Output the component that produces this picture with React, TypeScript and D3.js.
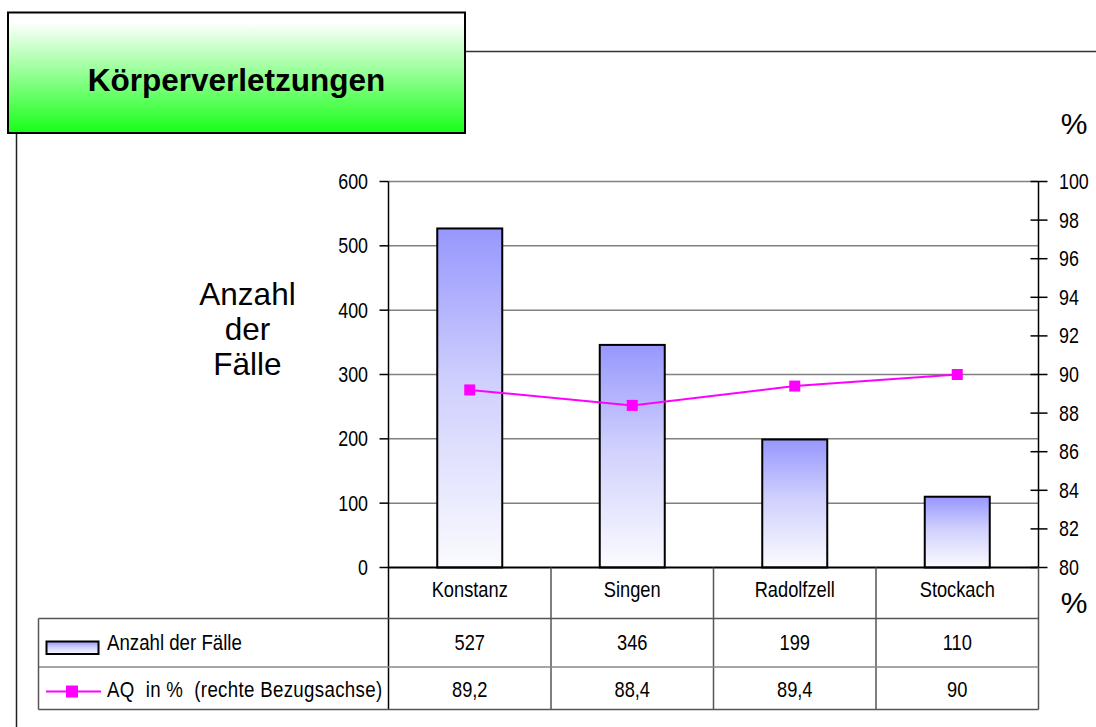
import React from 'react';
import * as d3 from 'd3';

const TITLE = 'Körperverletzungen';
const CITIES = ['Konstanz', 'Singen', 'Radolfzell', 'Stockach'];
const CASES = [527, 346, 199, 110];
const AQ = [89.2, 88.4, 89.4, 90];
const CASE_LABELS = ['527', '346', '199', '110'];
const AQ_LABELS = ['89,2', '88,4', '89,4', '90'];
const LEFT_TICKS = [0, 100, 200, 300, 400, 500, 600];
const RIGHT_TICKS = [80, 82, 84, 86, 88, 90, 92, 94, 96, 98, 100];
const SERIES_NAMES = ['Anzahl der Fälle', 'AQ  in %  (rechte Bezugsachse)'];
const Y_TITLE = ['Anzahl', 'der', 'Fälle'];

const W = 1096;
const H = 727;
const PLOT = { left: 388.5, right: 1038.5, top: 181.5, bottom: 567.5 };
const TABLE = { left: 38.5, row1: 618.5, row2: 667, bottom: 709.5 };
const SANS = '"Liberation Sans", Arial, sans-serif';
const GRID = '#808080';
const TABLE_LINE = '#555';
const MAGENTA = '#ff00ff';
// no narrow font installed, so squeeze Arial-metric text sideways
const SQUEEZE = 0.83;

/**
 * Condensed text drawn with a horizontal squeeze
 */
function Narrow({ x, y, anchor = 'start', size = 21, spacing = 0, dy, children }: any) {
  return <text transform={`translate(${x},${y}) scale(${SQUEEZE},1)`} textAnchor={anchor} dy={dy}
    fontFamily={SANS} fontSize={size} letterSpacing={spacing} xmlSpace='preserve'
    style={{ whiteSpace: 'pre' }}>{children}</text>;
}

export default function App() {
  const x = d3.scaleBand<string>()
    .domain(CITIES)
    .range([PLOT.left, PLOT.right])
    .paddingInner(0.6)
    .paddingOuter(0.3);
  const step = x.step();
  const yLeft = d3.scaleLinear().domain([0, 600]).range([PLOT.bottom, PLOT.top]);
  const yRight = d3.scaleLinear().domain([80, 100]).range([PLOT.bottom, PLOT.top]);
  const center = (c: string) => (x(c) as number) + x.bandwidth() / 2;

  const line = d3.line<number>()
    .x((_, i) => center(CITIES[i]))
    .y(d => yRight(d));

  const colEdges = CITIES.map((_, i) => PLOT.left + i * step).concat([PLOT.right]);

  return (
    <svg width={W} height={H} style={{ position: 'absolute', left: 0, top: 0, background: '#fff' }}>
      <defs>
        <linearGradient id='titleFill' x1='0' y1='0' x2='0' y2='1'>
          <stop offset='0.08' stopColor='#ffffff' />
          <stop offset='1' stopColor='#18ff18' />
        </linearGradient>
        <linearGradient id='barFill' x1='0' y1='0' x2='0' y2='1'>
          <stop offset='0' stopColor='#9797fd' />
          <stop offset='0.45' stopColor='#cfcffd' />
          <stop offset='1' stopColor='#fbfbff' />
        </linearGradient>
      </defs>

      {/* frame */}
      <line x1={465} x2={W} y1={51.5} y2={51.5} stroke='#333' strokeWidth={1.5} />
      <line x1={16.5} x2={16.5} y1={133} y2={H} stroke='#222' strokeWidth={1.5} />
      <rect x={8} y={12.5} width={457} height={120.5} fill='url(#titleFill)' stroke='#000' strokeWidth={2} />
      <text x={236.5} y={91} textAnchor='middle' fontFamily={SANS} fontWeight='bold' fontSize={31.5}>{TITLE}</text>

      {/* axis titles */}
      {Y_TITLE.map((t, i) =>
        <text key={t} x={247.5} y={305 + i * 35} textAnchor='middle' fontFamily={SANS} fontSize={31.5}>{t}</text>
      )}
      <text x={1074} y={134} textAnchor='middle' fontFamily={SANS} fontSize={30}>%</text>
      <text x={1074} y={613} textAnchor='middle' fontFamily={SANS} fontSize={30}>%</text>

      {/* grid */}
      {LEFT_TICKS.filter(t => t > 0).map(t =>
        <line key={t} x1={PLOT.left} x2={PLOT.right} y1={yLeft(t)} y2={yLeft(t)} stroke={GRID} strokeWidth={1.5} />
      )}

      {/* left axis */}
      {LEFT_TICKS.map(t =>
        <g key={t}>
          <line x1={PLOT.left - 9} x2={PLOT.left} y1={yLeft(t)} y2={yLeft(t)} stroke='#000' strokeWidth={1.5} />
          <Narrow x={368} y={yLeft(t)} dy='0.35em' anchor='end' size={21.5}>{t}</Narrow>
        </g>
      )}

      {/* right axis */}
      {RIGHT_TICKS.map(t =>
        <g key={t}>
          <line x1={PLOT.right - 8} x2={PLOT.right + 9} y1={yRight(t)} y2={yRight(t)} stroke='#000' strokeWidth={1.5} />
          <Narrow x={1059} y={yRight(t)} dy='0.35em' size={21.5}>{t}</Narrow>
        </g>
      )}

      {/* bars */}
      {CITIES.map((c, i) =>
        <rect key={c} x={x(c)} y={yLeft(CASES[i])} width={x.bandwidth()} height={PLOT.bottom - yLeft(CASES[i])}
          fill='url(#barFill)' stroke='#000' strokeWidth={2} />
      )}

      {/* axis lines */}
      <line x1={PLOT.left} x2={PLOT.left} y1={PLOT.top} y2={TABLE.bottom} stroke='#000' strokeWidth={1.5} />
      <line x1={PLOT.right} x2={PLOT.right} y1={PLOT.top} y2={PLOT.bottom} stroke='#000' strokeWidth={1.5} />
      <line x1={PLOT.left} x2={PLOT.right} y1={PLOT.bottom} y2={PLOT.bottom} stroke='#000' strokeWidth={2} />

      {/* AQ line */}
      <path d={line(AQ) || ''} fill='none' stroke={MAGENTA} strokeWidth={2} />
      {AQ.map((v, i) =>
        <rect key={i} x={center(CITIES[i]) - 5.5} y={yRight(v) - 5.5} width={11} height={11} fill={MAGENTA} />
      )}

      {/* data table */}
      <g stroke={TABLE_LINE} strokeWidth={1.5}>
        <line x1={PLOT.right} x2={PLOT.right} y1={PLOT.bottom} y2={TABLE.bottom} />
        {colEdges.slice(1, -1).map(e =>
          <line key={e} x1={e} x2={e} y1={PLOT.bottom} y2={TABLE.bottom} />
        )}
        <line x1={TABLE.left} x2={PLOT.right} y1={TABLE.row1} y2={TABLE.row1} />
        <line x1={TABLE.left} x2={PLOT.right} y1={TABLE.row2} y2={TABLE.row2} stroke='#888' />
        <line x1={TABLE.left} x2={PLOT.right} y1={TABLE.bottom} y2={TABLE.bottom} />
        <line x1={TABLE.left} x2={TABLE.left} y1={TABLE.row1} y2={TABLE.bottom} />
      </g>
      {CITIES.map((c, i) =>
        <g key={c}>
          <Narrow x={center(c)} y={597} anchor='middle' size={22}>{c}</Narrow>
          <Narrow x={center(c)} y={650} anchor='middle' size={22}>{CASE_LABELS[i]}</Narrow>
          <Narrow x={center(c)} y={697} anchor='middle' size={22}>{AQ_LABELS[i]}</Narrow>
        </g>
      )}

      {/* legend keys */}
      <rect x={46.5} y={641.5} width={52} height={12.5} fill='url(#barFill)' stroke='#000' strokeWidth={2} />
      <line x1={46} x2={101} y1={691.5} y2={691.5} stroke={MAGENTA} strokeWidth={2} />
      <rect x={66} y={685.5} width={12} height={12} fill={MAGENTA} />
      <Narrow x={107} y={650} size={22.5}>{SERIES_NAMES[0]}</Narrow>
      <Narrow x={107} y={697} size={22.5} spacing={0.4}>{SERIES_NAMES[1]}</Narrow>
    </svg>
  );
}
